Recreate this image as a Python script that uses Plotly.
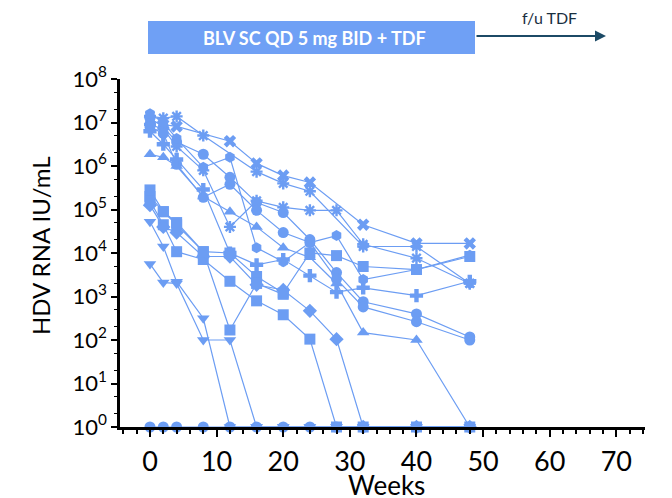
import plotly.graph_objects as go

# Weeks and per-patient HDV RNA values (log10 IU/mL; 0 = undetectable, plotted at 10^0)
weeks_all = [0, 2, 4, 8, 12, 16, 20, 24, 28, 32, 40, 48]

p01_weeks = [0, 2, 4, 12, 16, 20, 24, 32, 40, 48]
p01_log = [7.05, 6.95, 6.91, 6.57, 6.06, 5.78, 5.62, 4.65, 4.22, 4.22]

p02_weeks = [0, 2, 4, 8, 16, 20, 24, 32, 40, 48]
p02_log = [7.15, 7.10, 7.14, 6.70, 5.87, 5.60, 5.42, 4.15, 4.15, 3.30]

p03_weeks = weeks_all
p03_log = [6.95, 6.85, 6.45, 5.90, 4.60, 5.20, 5.05, 4.98, 4.98, 4.20, 3.88, 3.30]

p04_weeks = weeks_all
p04_log = [6.27, 6.20, 6.00, 5.30, 4.95, 4.60, 4.12, 3.90, 3.30, 2.17, 2.00, 0.0]

p05_weeks = weeks_all
p05_log = [7.10, 6.90, 6.55, 6.27, 5.74, 5.16, 4.93, 4.31, 3.55, 2.88, 2.60, 2.07]

p06_weeks = weeks_all
p06_log = [6.90, 6.75, 6.04, 5.28, 5.58, 4.98, 4.47, 4.24, 3.40, 2.76, 2.42, 2.00]

p07_weeks = weeks_all
p07_log = [7.20, 7.00, 6.63, 5.97, 6.20, 4.12, 3.80, 4.24, 4.40, 3.39, 3.62, 3.95]

p08_weeks = weeks_all
p08_log = [5.30, 4.95, 4.70, 4.03, 4.00, 3.46, 3.08, 4.00, 3.94, 3.69, 3.62, 3.92]

p09_weeks = weeks_all
p09_log = [5.20, 4.65, 4.03, 3.85, 3.35, 2.90, 2.58, 2.02, 0.0, 0.0, 0.0, 0.0]

p10_weeks = weeks_all
p10_log = [5.10, 4.60, 4.47, 3.92, 3.92, 3.27, 3.15, 2.67, 2.02, 0.0, 0.0, 0.0]

p11_weeks = weeks_all
p11_log = [6.80, 6.50, 6.15, 5.46, 4.00, 3.73, 3.85, 3.48, 3.10, 3.20, 3.02, 3.35]

p12_weeks = [0, 2, 4, 8, 12, 16, 20]
p12_log = [5.45, 4.95, 4.65, 4.03, 2.23, 3.30, 3.05]

p13_weeks = weeks_all
p13_log = [4.72, 4.15, 3.34, 2.50, 0.0, 0.0, 0.0, 0.0, 0.0, 0.0, 0.0, 0.0]

p14_weeks = weeks_all
p14_log = [3.75, 3.32, 3.30, 2.00, 2.00, 0.0, 0.0, 0.0, 0.0, 0.0, 0.0, 0.0]

p15_weeks = weeks_all
p15_log = [0.0, 0.0, 0.0, 0.0, 0.0, 0.0, 0.0, 0.0, 0.0, 0.0, 0.0, 0.0]

y_tick_exponents = [0, 1, 2, 3, 4, 5, 6, 7, 8]
x_tick_values = [0, 10, 20, 30, 40, 50, 60, 70]

series = [
    (p01_weeks, p01_log, "x"),
    (p02_weeks, p02_log, "asterisk-open"),
    (p03_weeks, p03_log, "asterisk-open"),
    (p04_weeks, p04_log, "triangle-up"),
    (p05_weeks, p05_log, "circle"),
    (p06_weeks, p06_log, "circle"),
    (p07_weeks, p07_log, "hexagon"),
    (p08_weeks, p08_log, "square"),
    (p09_weeks, p09_log, "square"),
    (p10_weeks, p10_log, "diamond"),
    (p11_weeks, p11_log, "cross"),
    (p12_weeks, p12_log, "square"),
    (p13_weeks, p13_log, "triangle-down"),
    (p14_weeks, p14_log, "triangle-down"),
    (p15_weeks, p15_log, "circle"),
]

COL = "#6c9df3"

fig = go.Figure()
for wk, lg, sym in series:
    is_ast = sym.startswith("asterisk")
    fig.add_trace(go.Scatter(
        x=wk, y=[10 ** v for v in lg], mode="lines+markers",
        line=dict(color=COL, width=1.2),
        marker=dict(symbol=sym, size=11 if not is_ast else 10, color=COL,
                    line=dict(color=COL, width=2.4 if is_ast else 0)),
        cliponaxis=False, showlegend=False,
    ))

# page has an 8px body margin: figure occupies 664x490 starting at (8, 8)
fig.update_layout(
    width=664, height=490,
    margin=dict(l=112, r=27, t=71, b=71),
    paper_bgcolor="white", plot_bgcolor="white",
    font=dict(family="Lato, sans-serif", color="black"),
    xaxis=dict(
        range=[-4.5, 74.3], tickmode="array", tickvals=x_tick_values,
        showgrid=False, zeroline=False, automargin=False,
        showline=True, linecolor="black", linewidth=2.5,
        ticks="outside", ticklen=7, tickwidth=2, tickcolor="black",
        minor=dict(dtick=2, tick0=0, ticks="outside", ticklen=4, tickwidth=1.5, tickcolor="black"),
        tickfont=dict(size=27), ticklabelstandoff=2,
    ),
    yaxis=dict(
        type="log", range=[0, 8], tickmode="array",
        tickvals=[10 ** e for e in y_tick_exponents],
        ticktext=[f"10<sup>{e}</sup>" for e in y_tick_exponents],
        showgrid=False, zeroline=False, automargin=False,
        showline=True, linecolor="black", linewidth=2.5,
        ticks="outside", ticklen=6, tickwidth=2, tickcolor="black",
        minor=dict(ticks="outside", ticklen=3, tickwidth=1.2, tickcolor="black"),
        tickfont=dict(size=22),
    ),
    shapes=[
        dict(type="rect", xref="paper", yref="paper",
             x0=(148 - 120) / 525, x1=(475 - 120) / 525,
             y0=(427 - 54) / 348, y1=(427 - 21) / 348,
             fillcolor="#6fa0f5", line=dict(width=0), layer="below"),
    ],
    annotations=[
        dict(xref="paper", yref="paper", x=(314 - 120) / 525, y=(427 - 38) / 348,
             xanchor="center", yanchor="middle",
             text="<b>BLV SC QD 5 mg BID + TDF</b>", showarrow=False,
             font=dict(size=18, color="white", family="Lato, sans-serif")),
        dict(xref="paper", yref="paper", x=(606 - 120) / 525, y=(427 - 36) / 348,
             ax=-131, ay=0, axref="pixel", ayref="pixel", text="",
             showarrow=True, arrowhead=2, arrowsize=1, arrowwidth=2.2, arrowcolor="#1c4a66"),
        dict(xref="paper", yref="paper", x=(549 - 120) / 525, y=(427 - 17) / 348,
             xanchor="center", yanchor="middle",
             text="f/u TDF", showarrow=False,
             font=dict(size=16, color="#1a2f3f", family="Lato, sans-serif")),
        dict(xref="paper", yref="paper", x=(386 - 120) / 525, y=(427 - 485) / 348,
             xanchor="center", yanchor="middle",
             text="Weeks", showarrow=False, font=dict(size=26)),
        dict(xref="paper", yref="paper", x=(40 - 120) / 525, y=(427 - 245) / 348,
             xanchor="center", yanchor="middle",
             text="HDV RNA IU/mL", textangle=-90, showarrow=False, font=dict(size=24)),
    ],
)

fig.write_html("out.html")
